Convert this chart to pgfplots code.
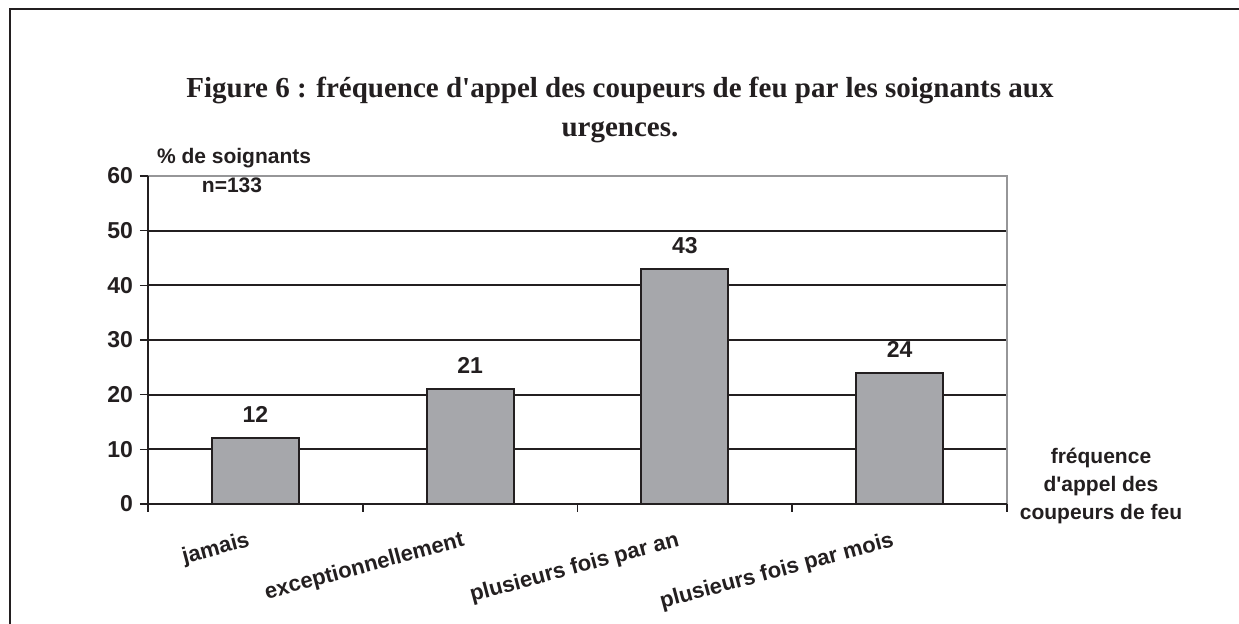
\documentclass[border=0pt]{standalone}
\usepackage{pgfplots}
\pgfplotsset{compat=1.18}
\usepackage{fontspec}
\setmainfont{Liberation Sans}
\newfontfamily\lsans{Liberation Sans}
\newfontfamily\titlefont{Liberation Serif}
\definecolor{barfill}{RGB}{166,167,171}
\definecolor{inkline}{RGB}{35,31,32}
\definecolor{bordergray}{RGB}{150,150,152}
\newcommand{\lab}{\lsans\bfseries\fontsize{10.5}{12}\selectfont}
\newcommand{\tlab}{\lsans\bfseries\fontsize{11.5}{13}\selectfont}

\begin{document}
\begin{tikzpicture}[x=0.5pt,y=-0.5pt]
\useasboundingbox (0,0) rectangle (1239,624);
\draw[inkline, line width=1.2pt] (10,624) -- (10,9) -- (1239,9);
\node[font=\titlefont\bfseries\fontsize{14.5}{19.5}\selectfont, align=center, text=inkline]
  at (620,110) {Figure 6 : fréquence d'appel des coupeurs de feu par les soignants aux\\urgences.};

\begin{axis}[
  at={(74pt,-252pt)}, anchor=south west,
  scale only axis, width=429.5pt, height=164pt,
  xmin=-0.5, xmax=3.5, ymin=0, ymax=60,
  ytick={0,10,...,60},
  xtick={-0.5,0.5,1.5,2.5,3.5}, xticklabels={},
  extra x ticks={0,1,2,3},
  extra x tick labels={jamais,exceptionnellement,plusieurs fois par an,plusieurs fois par mois},
  extra x tick style={major tick length=0pt,
    xticklabel style={font=\lsans\bfseries\fontsize{11}{13}\selectfont,
      xshift=-2pt, yshift=-9pt, rotate=15, anchor=north east}},
  tick align=outside, xtick pos=bottom, ytick pos=left,
  major tick length=4pt,
  ymajorgrids, grid style={inkline, line width=1pt},
  axis line style={draw=none},
  tick style={inkline, line width=0.8pt},
  tick label style={font=\tlab, text=inkline},
  /pgf/number format/assume math mode=true,
  ybar, bar width=0.405,
  nodes near coords,
  nodes near coords style={font=\tlab, text=inkline, anchor=south, yshift=4pt},
  clip=false,
]
\addplot[fill=barfill, draw=inkline, line width=1pt] coordinates {(0,12) (1,21) (2,43) (3,24)};
\draw[bordergray, line width=1pt] (rel axis cs:0,1) -- (rel axis cs:1,1) -- (rel axis cs:1,0);
\draw[inkline, line width=1.2pt] (rel axis cs:0,1) -- (rel axis cs:0,0) -- (rel axis cs:1,0);
\end{axis}

\node[anchor=west, font=\lab, text=inkline] at (150,158) {\% de soignants};
\node[font=\lab, text=inkline] at (232,185) {n=133};
\node[align=center, font=\lsans\bfseries\fontsize{10.5}{14}\selectfont, text=inkline] at (1101,486)
  {fréquence\\d'appel des\\coupeurs de feu};
\end{tikzpicture}
\end{document}
